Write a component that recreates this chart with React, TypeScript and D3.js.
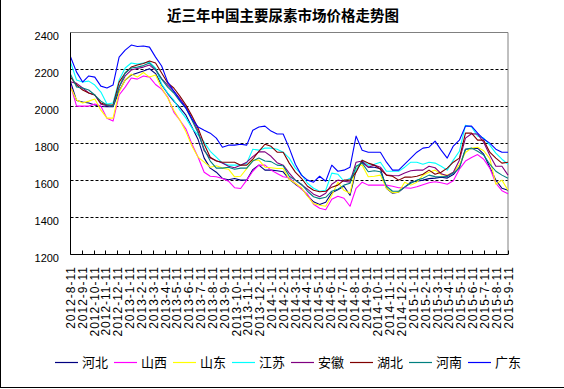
import * as d3 from 'd3'

const dateLabels = [
  '2012-8-11', '2012-9-11', '2012-10-11', '2012-11-11', '2012-12-11',
  '2013-1-11', '2013-2-11', '2013-3-11', '2013-4-11', '2013-5-11', '2013-6-11',
  '2013-7-11', '2013-8-11', '2013-9-11', '2013-10-11', '2013-11-11', '2013-12-11',
  '2014-1-11', '2014-2-11', '2014-3-11', '2014-4-11', '2014-5-11', '2014-6-11',
  '2014-7-11', '2014-8-11', '2014-9-11', '2014-10-11', '2014-11-11', '2014-12-11',
  '2015-1-11', '2015-2-11', '2015-3-11', '2015-4-11', '2015-5-11', '2015-6-11',
  '2015-7-11', '2015-8-11', '2015-9-11',
]

const provinces = ['河北', '山西', '山东', '江苏', '安徽', '湖北', '河南', '广东']
const colors = ['#000080', '#ff00ff', '#ffff00', '#00ffff', '#800080', '#800000', '#008080', '#0000ff']
const yTicks = [1200, 1400, 1600, 1800, 2000, 2200, 2400]

// semi-monthly readings, 2012-8 .. 2015-9
const hebei = [2134, 2032, 2024, 2019, 2008, 2000, 1999, 1999, 2084, 2143,
  2170, 2181, 2192, 2204, 2178, 2116, 2070, 2029, 1994, 1953,
  1888, 1821, 1721, 1667, 1645, 1611, 1604, 1611, 1602, 1602,
  1659, 1683, 1656, 1656, 1653, 1647, 1607, 1580, 1558, 1518,
  1485, 1470, 1482, 1534, 1550, 1569, 1520, 1656, 1699, 1672,
  1672, 1664, 1558, 1531, 1537, 1564, 1591, 1596, 1602, 1610,
  1613, 1618, 1613, 1632, 1672, 1769, 1772, 1775, 1742, 1672,
  1602, 1558, 1547]
const shanxi = [2116, 2002, 2002, 2002, 2013, 2002, 1937, 1921, 2062, 2105,
  2154, 2148, 2165, 2159, 2119, 2094, 2051, 1970, 1926, 1878,
  1796, 1726, 1645, 1623, 1620, 1611, 1596, 1561, 1557, 1602,
  1650, 1683, 1683, 1656, 1638, 1620, 1615, 1584, 1553, 1526,
  1472, 1450, 1442, 1499, 1515, 1504, 1461, 1558, 1591, 1575,
  1575, 1575, 1575, 1569, 1561, 1561, 1558, 1566, 1577, 1588,
  1593, 1588, 1580, 1599, 1661, 1705, 1724, 1740, 1715, 1667,
  1585, 1545, 1529]
const shandong = [2105, 2035, 2019, 2029, 2040, 1980, 1937, 1937, 2078, 2143,
  2175, 2159, 2184, 2159, 2170, 2100, 2046, 1980, 1926, 1863,
  1785, 1726, 1699, 1672, 1680, 1667, 1661, 1620, 1623, 1664,
  1710, 1710, 1672, 1669, 1665, 1665, 1607, 1585, 1561, 1515,
  1475, 1466, 1461, 1520, 1591, 1547, 1531, 1677, 1683, 1620,
  1623, 1629, 1558, 1534, 1537, 1591, 1575, 1591, 1629, 1645,
  1656, 1632, 1629, 1643, 1686, 1751, 1775, 1780, 1761, 1719,
  1580, 1602, 1547]
const jiangsu = [2240, 2143, 2132, 2137, 2116, 2078, 2013, 2019, 2143, 2208,
  2235, 2229, 2235, 2240, 2208, 2121, 2073, 2035, 1980, 1937,
  1883, 1845, 1807, 1758, 1726, 1694, 1683, 1683, 1683, 1694,
  1769, 1764, 1775, 1775, 1769, 1753, 1721, 1667, 1634, 1585,
  1558, 1542, 1547, 1640, 1634, 1596, 1612, 1656, 1710, 1683,
  1688, 1699, 1650, 1650, 1650, 1672, 1699, 1699, 1688, 1699,
  1694, 1677, 1656, 1710, 1758, 1899, 1889, 1840, 1829, 1791,
  1748, 1715, 1688]
const anhui = [2134, 2125, 2100, 2073, 2062, 2013, 2004, 2004, 2105, 2165,
  2197, 2205, 2213, 2224, 2197, 2151, 2116, 2083, 2043, 1998,
  1932, 1867, 1761, 1721, 1707, 1694, 1677, 1669, 1683, 1699,
  1729, 1755, 1755, 1731, 1696, 1683, 1640, 1602, 1577, 1553,
  1526, 1512, 1531, 1580, 1602, 1596, 1591, 1699, 1705, 1672,
  1683, 1672, 1629, 1627, 1626, 1641, 1653, 1656, 1656, 1677,
  1669, 1637, 1626, 1645, 1710, 1829, 1853, 1851, 1807, 1737,
  1677, 1677, 1629]
const hubei = [2159, 2116, 2089, 2073, 2062, 2019, 2008, 2008, 2132, 2181,
  2213, 2224, 2232, 2246, 2235, 2181, 2127, 2100, 2056, 2008,
  1948, 1883, 1796, 1726, 1705, 1699, 1699, 1699, 1683, 1683,
  1715, 1758, 1796, 1785, 1753, 1753, 1694, 1645, 1612, 1569,
  1547, 1539, 1542, 1564, 1575, 1602, 1602, 1645, 1710, 1694,
  1683, 1661, 1629, 1623, 1602, 1618, 1618, 1623, 1634, 1656,
  1634, 1645, 1667, 1699, 1721, 1856, 1856, 1818, 1818, 1753,
  1721, 1694, 1699]
const henan = [2175, 2105, 2100, 2089, 2062, 2029, 2008, 2002, 2105, 2181,
  2208, 2213, 2221, 2235, 2202, 2148, 2105, 2073, 2029, 1991,
  1926, 1856, 1769, 1705, 1667, 1667, 1672, 1661, 1667, 1667,
  1705, 1721, 1705, 1702, 1683, 1680, 1623, 1602, 1580, 1542,
  1512, 1502, 1509, 1542, 1553, 1575, 1585, 1677, 1694, 1647,
  1653, 1647, 1569, 1542, 1542, 1564, 1585, 1602, 1612, 1629,
  1621, 1620, 1621, 1640, 1667, 1769, 1775, 1758, 1737, 1688,
  1650, 1629, 1612]
const guangdong = [2269, 2186, 2132, 2165, 2159, 2110, 2100, 2116, 2267, 2305,
  2332, 2324, 2327, 2321, 2267, 2219, 2132, 2083, 2035, 1991,
  1932, 1889, 1872, 1856, 1829, 1780, 1791, 1791, 1796, 1791,
  1872, 1889, 1894, 1867, 1851, 1851, 1775, 1688, 1629, 1602,
  1591, 1623, 1596, 1683, 1650, 1656, 1672, 1840, 1764, 1753,
  1753, 1753, 1699, 1656, 1656, 1688, 1721, 1753, 1775, 1780,
  1813, 1764, 1721, 1786, 1818, 1894, 1894, 1856, 1824, 1802,
  1769, 1753, 1753]

const seriesValues = [hebei, shanxi, shandong, jiangsu, anhui, hubei, henan, guangdong]

export default function App() {
  const W = 564
  const H = 389
  const left = 70.5, right = 508, top = 32.5, bottom = 254.5

  const x = d3.scaleLinear().domain([0, hebei.length - 1]).range([left, right])
  const xLab = d3.scalePoint<string>().domain(dateLabels).range([left, right])
  const y = d3.scaleLinear().domain([1200, 2400]).range([bottom, top])
  const snap = (v: number) => Math.round(v - 0.5) + 0.5

  const line = d3.line<number>().x((_, i) => x(i)).y(d => y(d))

  const sans = 'Liberation Sans, Arial, sans-serif'
  const cjk = '"Noto Sans CJK SC", sans-serif'

  return (
    <svg width={W} height={H} style={{ position: 'absolute', left: 0, top: 0, background: '#fff' }}>
      <rect x={0} y={0} width={W} height={H} fill="#fff" />
      {/* outer frame */}
      <line x1={0.5} x2={0.5} y1={0} y2={387.5} stroke="#000" />
      <line x1={0} x2={W} y1={387.5} y2={387.5} stroke="#000" />

      <text x={283} y={21} textAnchor="middle" fontFamily={cjk} fontWeight="bold" fontSize={14.5} fill="#000">
        近三年中国主要尿素市场价格走势图
      </text>

      {/* grid */}
      {yTicks.filter(t => t > 1200 && t < 2400).map(t => (
        <line key={t} x1={left} x2={right} y1={snap(y(t))} y2={snap(y(t))}
          stroke="#000" strokeDasharray="3,2" />
      ))}
      <line x1={left} x2={right} y1={top} y2={top} stroke="#808080" />
      <line x1={right} x2={right} y1={top} y2={bottom} stroke="#808080" />

      {/* series */}
      <g fill="none" strokeWidth={1.1} strokeLinejoin="round">
        {seriesValues.map((vals, k) => (
          <path key={provinces[k]} d={line(vals) ?? ''} stroke={colors[k]} />
        ))}
      </g>

      {/* axes */}
      <line x1={left} x2={left} y1={top} y2={bottom} stroke="#000" />
      <line x1={left} x2={right} y1={bottom} y2={bottom} stroke="#000" />
      {dateLabels.map(d => {
        const tx = snap(xLab(d)!)
        return (
          <g key={d}>
            <line x1={tx} x2={tx} y1={bottom} y2={bottom - 4} stroke="#000" />
            <text transform={`translate(${tx + 4},266) rotate(-90)`} textAnchor="end"
              fontFamily={sans} fontSize={12} letterSpacing={1} fill="#000">{d}</text>
          </g>
        )
      })}
      {yTicks.map(t => (
        <text key={t} x={59} y={y(t) + 7} textAnchor="end" fontFamily={sans} fontSize={11} fill="#000">{t}</text>
      ))}

      {/* legend */}
      {provinces.map((p, k) => {
        const lx = 55 + k * 59
        return (
          <g key={p}>
            <line x1={lx} x2={lx + 23} y1={362.5} y2={362.5} stroke={colors[k]} strokeWidth={1.2} />
            <text x={lx + 27} y={367} fontFamily={cjk} fontSize={13} fill="#000">{p}</text>
          </g>
        )
      })}
    </svg>
  )
}
